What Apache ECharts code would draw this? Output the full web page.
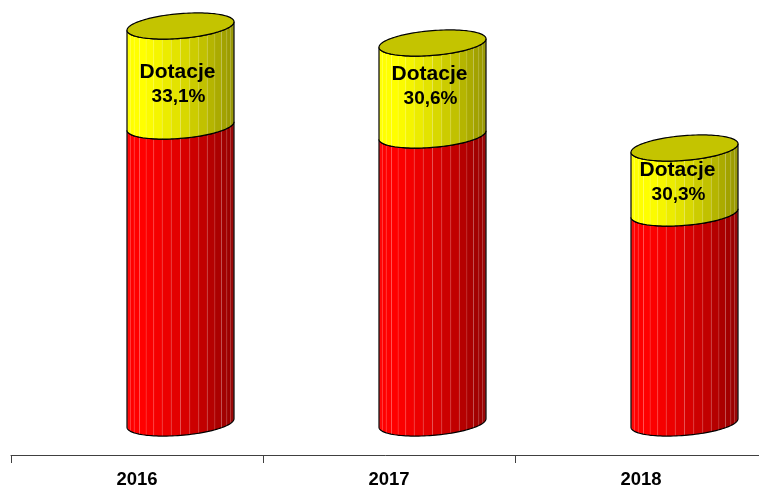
<!DOCTYPE html>
<html>
<head>
<meta charset="utf-8">
<style>html,body{margin:0;padding:0;background:#fff}#c{width:759px;height:488px}</style>
<script src="https://cdn.jsdelivr.net/npm/echarts@6/dist/echarts.min.js"></script>
</head>
<body>
<div id="c"></div>
<script>
const years = ['2016', '2017', '2018'];
const reszta = [297, 288, 210];
const dotacje = [100, 92, 65];
const dotacjeLabels = ['33,1%', '30,6%', '30,3%'];
const labelName = 'Dotacje';

// label placement, measured from the top of the yellow segment
const labelDrop = [58.5, 43.5, 34.5];
const labelShift = [-3, -3, -7];

const SHIFT = 43.5, WIDTH_RATIO = 107 / 252, SHEAR = 4.2, MINOR = 12.4, STRIPS = 18;

function ePoint(cx, cy, a, t) {
  return [cx + a * Math.cos(t), cy - SHEAR * Math.cos(t) + MINOR * Math.sin(t)];
}
function shade(rgb, u) {
  const k = u < 0.15 ? 1 : 1 - Math.pow((u - 0.15) / 0.85, 1.3) * 0.42;
  return 'rgb(' + rgb.map(v => Math.round(v * k)).join(',') + ')';
}
function frontArc(cx, cy, a, from, to, n) {
  const pts = [];
  for (let i = 0; i <= n; i++) pts.push(ePoint(cx, cy, a, from + (to - from) * i / n));
  return pts;
}
function cylinderPart(api, rgb, withTop, idx) {
  const x = api.value(0), lo = api.value(1), hi = api.value(2);
  const cat = api.coord([x, lo]);
  const cx = cat[0] + SHIFT;
  const yLo = cat[1], yHi = api.coord([x, hi])[1];
  const a = api.size([1, 0])[0] * WIDTH_RATIO / 2;
  const children = [];
  for (let i = 0; i < STRIPS; i++) {
    const t0 = Math.PI - Math.PI * i / STRIPS, t1 = Math.PI - Math.PI * (i + 1) / STRIPS;
    const pts = frontArc(cx, yLo, a, t0, t1, 3).concat(frontArc(cx, yHi, a, t1, t0, 3));
    const u = (Math.cos((t0 + t1) / 2) + 1) / 2;
    children.push({ type: 'polygon', shape: { points: pts }, style: { fill: shade(rgb, u) } });
    if (i > 0) {
      const bottom = ePoint(cx, yLo, a, t0), top = ePoint(cx, yHi, a, t0);
      children.push({ type: 'polyline', shape: { points: [bottom, top] },
                      style: { fill: 'none', stroke: 'rgba(255,255,255,0.1)', lineWidth: 1 } });
    }
  }
  const outline = frontArc(cx, yLo, a, Math.PI, 0, 60).concat(frontArc(cx, yHi, a, 0, Math.PI, 60));
  children.push({ type: 'polygon', shape: { points: outline }, style: { fill: 'none', stroke: '#000', lineWidth: 1.2 } });
  if (withTop) {
    children.push({
      type: 'polygon',
      shape: { points: frontArc(cx, yHi, a, 0, Math.PI * 2, 120) },
      style: { fill: '#c4c400', stroke: '#000', lineWidth: 1.2 }
    });
    const lx = cx + labelShift[idx], ly = yHi + labelDrop[idx];
    children.push({
      type: 'text',
      style: { x: lx, y: ly - 12.5, text: labelName, fill: '#000', align: 'center', verticalAlign: 'middle',
               font: 'bold 21px "Liberation Sans", Arial, sans-serif' }
    });
    children.push({
      type: 'text',
      style: { x: lx + 1, y: ly + 12.5, text: dotacjeLabels[idx], fill: '#000', align: 'center', verticalAlign: 'middle',
               font: 'bold 19px "Liberation Sans", Arial, sans-serif' }
    });
  }
  return { type: 'group', children };
}

const chart = echarts.init(document.getElementById('c'), null, { renderer: 'canvas' });
chart.setOption({
  animation: false,
  backgroundColor: '#fff',
  grid: { left: 11, top: 0, width: 756, height: 455, containLabel: false, outerBoundsMode: 'none' },
  xAxis: {
    type: 'category',
    data: years,
    boundaryGap: true,
    axisLine: { onZero: false, lineStyle: { color: '#404040', width: 1 } },
    axisTick: { show: true, length: 8, alignWithLabel: false, lineStyle: { color: '#404040', width: 1 } },
    axisLabel: { color: '#000', fontFamily: '"Liberation Sans", Arial, sans-serif', fontWeight: 'bold', fontSize: 18.5, margin: 15 }
  },
  yAxis: { type: 'value', min: -32, max: 423, show: false },
  series: [
    {
      name: 'Pozostałe',
      type: 'custom',
      clip: false,
      encode: { x: 0, y: 2 },
      data: years.map((y, i) => [i, 0, reszta[i]]),
      renderItem: (params, api) => cylinderPart(api, [255, 0, 0], false, params.dataIndex)
    },
    {
      name: labelName,
      type: 'custom',
      clip: false,
      encode: { x: 0, y: 2 },
      data: years.map((y, i) => [i, reszta[i], reszta[i] + dotacje[i]]),
      renderItem: (params, api) => cylinderPart(api, [255, 255, 0], true, params.dataIndex)
    }
  ]
});
</script>
</body>
</html>
